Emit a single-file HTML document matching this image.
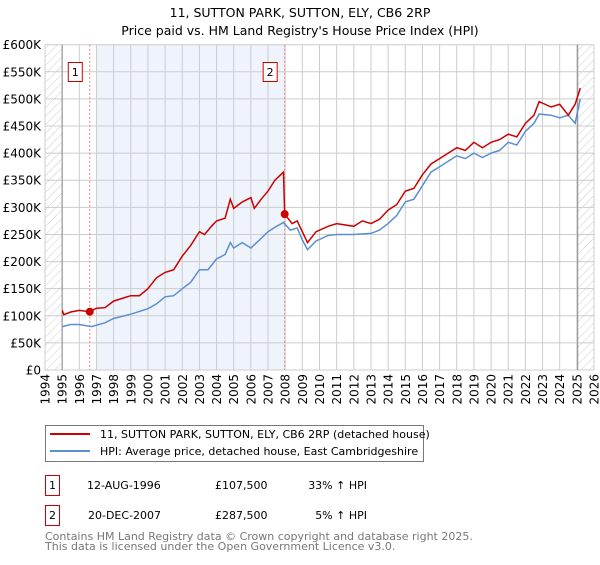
<!DOCTYPE html>
<html><head><meta charset="utf-8"><style>
body{margin:0;background:#fff;font-family:"Liberation Sans","DejaVu Sans",sans-serif;}
svg text{font-family:"DejaVu Sans","Liberation Sans",sans-serif;}
</style></head><body>
<svg id="c" width="600" height="560" xmlns="http://www.w3.org/2000/svg">
<defs><pattern id="hatch" width="6" height="6" patternUnits="userSpaceOnUse" patternTransform="rotate(45)"><line x1="0" y1="0" x2="0" y2="6" stroke="#ccc" stroke-width="1"/></pattern></defs>
<text x="300" y="17" text-anchor="middle" font-size="12.5">11, SUTTON PARK, SUTTON, ELY, CB6 2RP</text>
<text x="300" y="35" text-anchor="middle" font-size="12.5">Price paid vs. HM Land Registry's House Price Index (HPI)</text>
<g id="plot"></g>
<rect x="45.5" y="425.5" width="378" height="36" fill="#fff" stroke="#777"/>
<line x1="50" y1="434" x2="90" y2="434" stroke="#cc0000" stroke-width="2"/>
<text x="100" y="438" font-size="11">11, SUTTON PARK, SUTTON, ELY, CB6 2RP (detached house)</text>
<line x1="50" y1="451" x2="90" y2="451" stroke="#5b8fd1" stroke-width="2"/>
<text x="100" y="455" font-size="11">HPI: Average price, detached house, East Cambridgeshire</text>
<g font-size="11">
<rect x="45.5" y="475.5" width="14" height="20" fill="none" stroke="#cc0000"/>
<text x="52.5" y="489" text-anchor="middle">1</text>
<text x="87" y="489">12-AUG-1996</text>
<text x="215" y="489">£107,500</text>
<text x="367" y="489" text-anchor="end">33% ↑ HPI</text>
<rect x="45.5" y="505.5" width="14" height="20" fill="none" stroke="#cc0000"/>
<text x="52.5" y="519" text-anchor="middle">2</text>
<text x="88" y="519">20-DEC-2007</text>
<text x="215" y="519">£287,500</text>
<text x="367" y="519" text-anchor="end">5% ↑ HPI</text>
</g>
<text x="45" y="540" font-size="11" fill="#777">Contains HM Land Registry data © Crown copyright and database right 2025.</text>
<text x="45" y="550" font-size="11" fill="#777">This data is licensed under the Open Government Licence v3.0.</text>
</svg>
<script>
const yTicks=[0,50,100,150,200,250,300,350,400,450,500,550,600];
const yTickLabels=["£0","£50K","£100K","£150K","£200K","£250K","£300K","£350K","£400K","£450K","£500K","£550K","£600K"];
const xYears=[1994,1995,1996,1997,1998,1999,2000,2001,2002,2003,2004,2005,2006,2007,2008,2009,2010,2011,2012,2013,2014,2015,2016,2017,2018,2019,2020,2021,2022,2023,2024,2025,2026];
const hpiT=[1995.0,1995.5,1996,1996.7,1997.5,1998,1999,2000,2000.5,2001,2001.5,2002,2002.5,2003,2003.5,2004,2004.5,2004.8,2005,2005.5,2006,2006.5,2007,2007.5,2007.9,2008.3,2008.7,2009.0,2009.3,2009.8,2010.5,2011,2012,2013,2013.5,2014,2014.5,2015,2015.5,2016,2016.5,2017,2017.5,2018,2018.5,2019,2019.5,2020,2020.5,2021,2021.5,2022,2022.5,2022.8,2023.5,2024,2024.5,2024.9,2025.2];
const hpiV=[80,84,84,80,87,95,103,113,122,135,137,150,162,185,185,205,213,235,225,235,225,240,255,265,272,258,262,240,222,238,248,250,250,252,258,270,285,310,315,340,365,375,385,395,390,400,392,400,405,420,415,440,455,472,470,465,470,455,500];
const priceT=[1995.0,1995.1,1995.5,1996,1996.6,1997,1997.5,1998,1999,1999.5,2000,2000.5,2001,2001.5,2002,2002.5,2003,2003.3,2003.7,2004,2004.5,2004.8,2005,2005.5,2006,2006.2,2006.6,2007,2007.4,2007.8,2007.9,2007.97,2008.4,2008.7,2009,2009.3,2009.8,2010.5,2011,2012,2012.5,2013,2013.5,2014,2014.5,2015,2015.5,2016,2016.5,2017,2017.5,2018,2018.5,2019,2019.5,2020,2020.5,2021,2021.5,2022,2022.5,2022.8,2023.5,2024,2024.5,2024.9,2025.2];
const priceV=[110,102,107,110,107.5,114,115,127,137,137,150,170,180,185,210,230,255,250,265,275,280,315,298,310,318,298,315,330,350,362,365,287.5,270,275,255,235,255,265,270,265,275,270,278,295,305,330,335,360,380,390,400,410,405,420,410,420,425,435,430,455,470,495,485,490,470,490,520];
const saleT=[1996.61,2007.97];
const saleV=[107.5,287.5];
const saleLabels=["1","2"];

const X0=45,X1=594,Y0=370,Y1=44.7;
const xs=t=>X0+(t-1994)*(X1-X0)/32;
const ys=v=>Y0-v*(Y0-Y1)/600;
const NS="http://www.w3.org/2000/svg";
const g=document.getElementById('plot');
function mk(tag,attrs,parent){const e=document.createElementNS(NS,tag);for(const k in attrs)e.setAttribute(k,attrs[k]);(parent||g).appendChild(e);return e;}
let e;
e=mk('rect',{x:xs(1997),y:Y1,width:xs(2007.97)-xs(1997),height:Y0-Y1,fill:'#eef3fc'});


e=mk('rect',{x:X0,y:Y1,width:xs(1995)-X0,height:Y0-Y1,fill:'url(#hatch)'});


e=mk('rect',{x:xs(2025.05),y:Y1,width:X1-xs(2025.05),height:Y0-Y1,fill:'url(#hatch)'});


yTicks.forEach((v,i)=>{
  e=mk('line',{x1:X0,x2:X1,y1:ys(v),y2:ys(v),stroke:'#ccc','stroke-width':1});
  
  
  e=mk('text',{x:X0-4,y:ys(v)+4.5,'text-anchor':'end','font-size':12});
  e.textContent=yTickLabels[i];
  
  
});
xYears.forEach(yr=>{
  e=mk('line',{x1:xs(yr),x2:xs(yr),y1:Y1,y2:Y0,stroke:'#ccc','stroke-width':1});
  
  
  const x=xs(yr)+4.5, y=374;
  e=mk('text',{x:x,y:y,'text-anchor':'end','font-size':12,transform:'rotate(-90 '+x+' '+y+')'});
  e.textContent=String(yr);
  
  
});
[1995,2025.05].forEach(t=>{
  e=mk('line',{x1:xs(t),x2:xs(t),y1:Y1,y2:Y0,stroke:'#888','stroke-width':1});
  
  
});
saleT.forEach((t,i)=>{
  e=mk('line',{x1:xs(t),x2:xs(t),y1:Y1,y2:Y0,stroke:'#f08080','stroke-width':1,'stroke-dasharray':'2,2'});
  
  
});
function pts(T,V){return T.map((t,i)=>xs(t).toFixed(1)+','+ys(V[i]).toFixed(1)).join(' ');}
e=mk('polyline',{points:pts(hpiT,hpiV),fill:'none',stroke:'#5b8fd1','stroke-width':1.5});


e=mk('polyline',{points:pts(priceT,priceV),fill:'none',stroke:'#cc0000','stroke-width':1.5});


saleT.forEach((t,i)=>{
  e=mk('circle',{cx:xs(t),cy:ys(saleV[i]),r:4,fill:'#cc0000'});
  
  
  e=mk('rect',{x:xs(t)-21.5,y:62.5,width:14,height:19,fill:'#fff',stroke:'#cc0000'});
  
  
  e=mk('text',{x:xs(t)-14.5,y:76,'text-anchor':'middle','font-size':11});
  e.textContent=saleLabels[i];
  
  
});
</script>
</body></html>
